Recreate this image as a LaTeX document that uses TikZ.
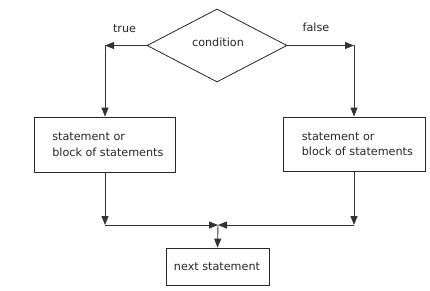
\documentclass[tikz,border=0pt]{standalone}
\usepackage{fontspec}
\setmainfont{DejaVu Sans}
\usetikzlibrary{arrows.meta,shapes.geometric,calc}
\tikzset{
  conn/.style={draw=black!80, line width=0.9pt},
  arr/.style={conn, -{Triangle[length=9pt,width=7pt]}},
  boxshape/.style={draw=black!85, line width=0.8pt, rectangle, inner sep=0pt},
  txt/.style={font=\fontsize{11.2}{15.5}\selectfont, text=black!85, inner sep=0pt},
}
\begin{document}
\begin{tikzpicture}[x=1pt,y=-1pt]
\useasboundingbox (0,0) rectangle (430,291);
% decision
\node[draw=black!85, line width=0.8pt, diamond, minimum width=140pt, minimum height=73pt, inner sep=0pt] (dia) at (217,45.5) {};
\node[txt] (cond) at (218,42) {condition};
\node[txt, anchor=base] (ltrue) at (124.5,33) {true};
\node[txt, anchor=base] (lfalse) at (316,32) {false};
% statement boxes
\node[boxshape, minimum width=141pt, minimum height=55pt] (lbox) at (105,144.5) {};
\node[txt, anchor=west, align=left] (ltext) at ($(lbox.west)+(18,0)$) {statement or\\block of statements};
\node[boxshape, minimum width=142pt, minimum height=54pt] (rbox) at (354,144) {};
\node[txt, anchor=west, align=left] (rtext) at ($(rbox.west)+(19,0)$) {statement or\\block of statements};
% next statement
\node[boxshape, minimum width=103pt, minimum height=37pt] (nbox) at (217.5,266.5) {};
\node[txt] (ntext) at (217,267) {next statement};
% corner coordinates
\coordinate (tl) at (105,45.5);
\coordinate (tr) at (354,45.5);
\coordinate (bl) at (105,225);
\coordinate (br) at (354,225);
\coordinate (mid) at (218,225);
% connectors
\draw[arr] (dia.west) -- (tl);
\draw[arr] (tl) -- (lbox.north);
\draw[arr] (dia.east) -- (tr);
\draw[arr] (tr) -- (rbox.north);
\draw[arr] (lbox.south) -- (bl);
\draw[arr] (rbox.south) -- (br);
\draw[arr] (bl) -- (mid);
\draw[arr] (br) -- (mid);
\draw[arr] (mid) -- (nbox.north);
\end{tikzpicture}
\end{document}
